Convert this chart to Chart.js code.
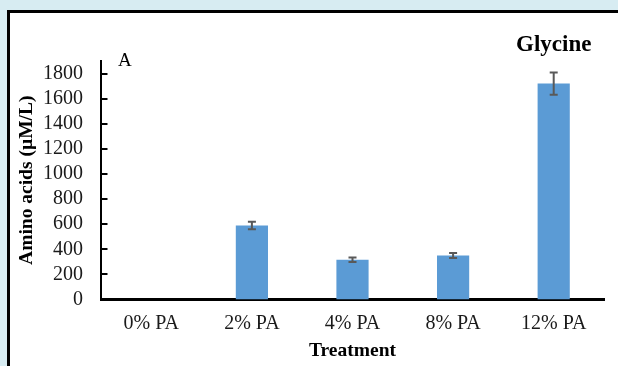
<!DOCTYPE html>
<html>
<head>
<meta charset="utf-8">
<script src="https://cdn.jsdelivr.net/npm/chart.js@4/dist/chart.umd.min.js"></script>
<style>
  html, body { margin: 0; padding: 0; width: 618px; height: 366px; overflow: hidden; background: #d7ecf2; }
  #panel { position: absolute; left: 7px; top: 10px; width: 700px; height: 500px; border: 3px solid #000; background: #fff; }
  #c { position: absolute; left: 0; top: 0; }
</style>
</head>
<body>
<div id="panel"></div>
<canvas id="c" width="618" height="366"></canvas>
<script>
const categories = ['0% PA', '2% PA', '4% PA', '8% PA', '12% PA'];
const glycine = [0, 589, 316, 350, 1720];
const glycineErr = [0, 30, 18, 20, 88];
const yTickValues = [0, 200, 400, 600, 800, 1000, 1200, 1400, 1600, 1800];
const chartTitle = 'Glycine';
const panelLabel = 'A';
const yTitle = 'Amino acids (\u00b5M/L)';
const xTitle = 'Treatment';

const serif = '"Liberation Serif", "Times New Roman", serif';

const errorBars = {
  id: 'errorBars',
  afterDatasetsDraw(chart) {
    const ctx = chart.ctx;
    const y = chart.scales.y;
    const meta = chart.getDatasetMeta(0);
    ctx.save();
    ctx.strokeStyle = '#595959';
    ctx.lineWidth = 2;
    meta.data.forEach((bar, i) => {
      const e = glycineErr[i];
      if (!e) return;
      const v = glycine[i];
      const yt = y.getPixelForValue(v + e);
      const yb = y.getPixelForValue(v - e);
      ctx.beginPath();
      ctx.moveTo(bar.x, yt); ctx.lineTo(bar.x, yb);
      ctx.moveTo(bar.x - 4, yt); ctx.lineTo(bar.x + 4, yt);
      ctx.moveTo(bar.x - 4, yb); ctx.lineTo(bar.x + 4, yb);
      ctx.stroke();
    });
    ctx.restore();
  }
};

const extras = {
  id: 'extras',
  afterDraw(chart) {
    const ctx = chart.ctx;
    const y = chart.scales.y;
    const left = chart.chartArea.left;
    ctx.save();
    ctx.strokeStyle = '#000';
    ctx.lineWidth = 2;
    yTickValues.forEach(v => {
      const py = Math.round(y.getPixelForValue(v));
      ctx.beginPath();
      ctx.moveTo(left, py); ctx.lineTo(left + 6.5, py);
      ctx.stroke();
    });
    ctx.fillStyle = '#000';
    ctx.textBaseline = 'alphabetic';
    ctx.font = 'bold 23px ' + serif;
    ctx.textAlign = 'center';
    const x12 = chart.getDatasetMeta(0).data[4].x;
    ctx.fillText(chartTitle, x12, 51);
    ctx.font = '19px ' + serif;
    ctx.textAlign = 'left';
    ctx.fillText(panelLabel, 118, 65.5);
    ctx.restore();
  }
};

new Chart(document.getElementById('c'), {
  type: 'bar',
  data: {
    labels: categories,
    datasets: [{
      data: glycine,
      backgroundColor: '#5b9bd5',
      borderWidth: 0,
      categoryPercentage: 0.32,
      barPercentage: 1
    }]
  },
  options: {
    responsive: false,
    animation: false,
    devicePixelRatio: 1,
    layout: { padding: { left: 0, top: 61, right: 14, bottom: 0 } },
    plugins: { legend: { display: false }, tooltip: { enabled: false }, title: { display: false } },
    scales: {
      x: {
        grid: { display: false, drawTicks: false },
        border: { display: true, color: '#000', width: 3 },
        ticks: { color: '#1a1a1a', font: { family: serif, size: 20 }, padding: 12, maxRotation: 0, autoSkip: false },
        title: { display: true, text: xTitle, color: '#000', font: { family: serif, size: 19.5, weight: 'bold' }, padding: { top: 0, bottom: 3 } },
        afterFit(s) { s.height = 66.5; }
      },
      y: {
        min: 0,
        max: 1900,
        grid: { display: false, drawTicks: false },
        border: { display: true, color: '#000', width: 2 },
        ticks: { color: '#1a1a1a', font: { family: serif, size: 20 }, padding: 18, autoSkip: false, callback: v => String(v) },
        afterBuildTicks(s) { s.ticks = yTickValues.map(v => ({ value: v })); },
        title: { display: true, text: yTitle, color: '#000', font: { family: serif, size: 19.5, weight: 'bold' }, padding: { top: 15, bottom: 0 } },
        afterFit(s) { s.width = 101; }
      }
    }
  },
  plugins: [errorBars, extras]
});
</script>
</body>
</html>
